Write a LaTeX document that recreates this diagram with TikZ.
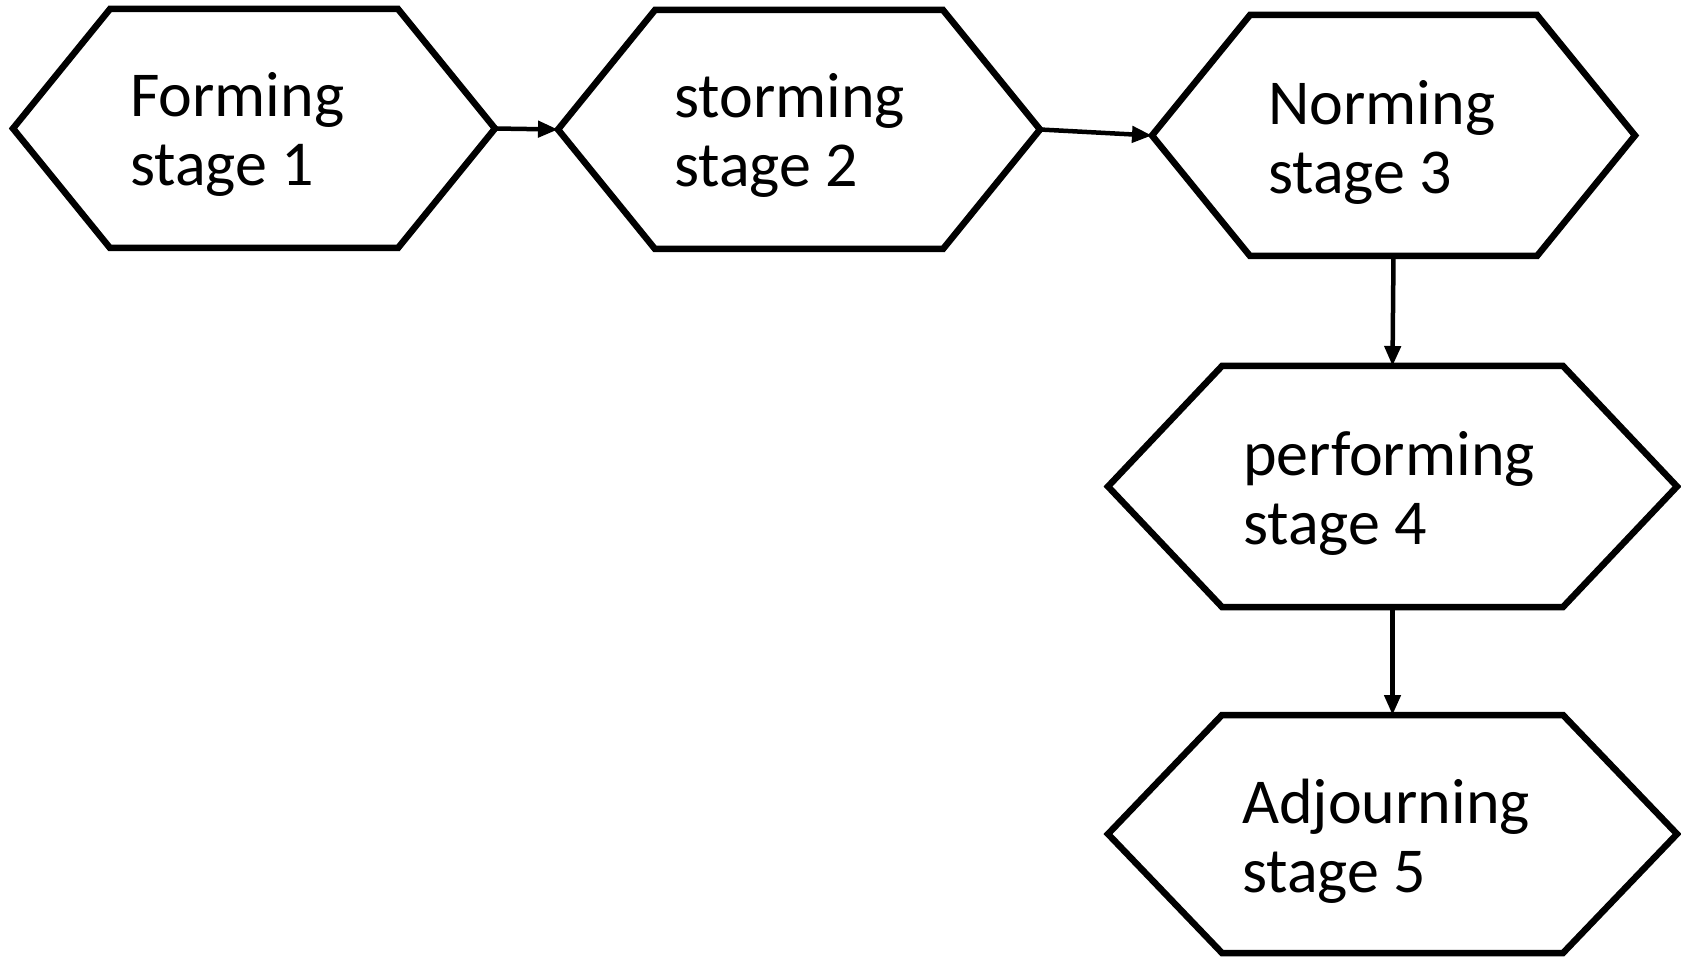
\documentclass[tikz,border=0pt]{standalone}
\usepackage{fontspec}
\setmainfont{Carlito}
\usetikzlibrary{arrows.meta}
\newcommand{\hexnode}[6]{%
  \node[hexframe, minimum width=#4pt, minimum height=#5pt] (#1) at (#2,#3) {};
  \draw[hexline] (#1.west) -- ([xshift=#6pt]#1.north west) -- ([xshift=-#6pt]#1.north east)
    -- (#1.east) -- ([xshift=-#6pt]#1.south east) -- ([xshift=#6pt]#1.south west) -- cycle;
}
\begin{document}
\begin{tikzpicture}[x=1pt, y=-1pt,
  hexframe/.style={draw=none, inner sep=0pt, outer sep=0pt},
  hexline/.style={draw=black, line width=6.5pt, line join=miter, fill=white},
  lbl/.style={anchor=base west, inner sep=0pt, align=left, font=\fontsize{64}{69}\selectfont},
  conn/.style={draw=black, line width=4.5pt, -{Triangle[length=20pt, width=16pt]}}]
\useasboundingbox[fill=white] (0,0) rectangle (1681,957);
\hexnode{h1}{254}{128.5}{482}{239}{97}
\hexnode{h2}{799}{129.5}{482}{239}{97}
\hexnode{h3}{1393.5}{135.5}{483}{241}{98}
\hexnode{h4}{1392.5}{486.5}{569}{241}{114}
\hexnode{h5}{1392.5}{834}{569}{238}{114}
\node[lbl] (t1) at (130,186) {Forming\\stage 1};
\node[lbl] (t2) at (674,187) {storming\\stage 2};
\node[lbl] (t3) at (1268,194) {Norming\\stage 3};
\node[lbl] (t4) at (1243,544) {performing\\stage 4};
\node[lbl] (t5) at (1242,892) {Adjourning\\stage 5};
\draw[conn] (h1.east) -- (h2.west);
\draw[conn] (h2.east) -- (h3.west);
\draw[conn] (h3.south) -- (h4.north);
\draw[conn] (h4.south) -- (h5.north);
\end{tikzpicture}
\end{document}
